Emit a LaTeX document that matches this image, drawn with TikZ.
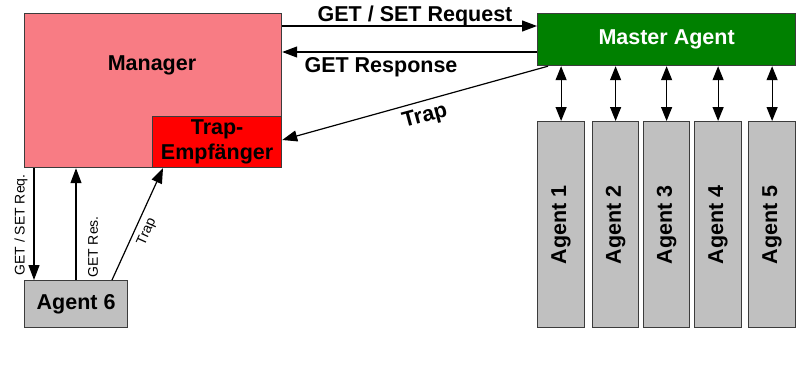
\documentclass[tikz,border=0pt]{standalone}
\usepackage{fontspec}
\setmainfont{Liberation Sans}
\usetikzlibrary{arrows.meta}
\definecolor{mgrpink}{RGB}{248,124,132}
\definecolor{trapred}{RGB}{255,0,0}
\definecolor{mastergreen}{RGB}{0,128,0}
\definecolor{agentgray}{RGB}{192,192,192}
\definecolor{edgegray}{RGB}{60,60,60}
\begin{document}
\begin{tikzpicture}[x=1pt,y=-1pt,
  box/.style={draw=edgegray, line width=1.2pt, anchor=north west, inner sep=0pt},
  bigtxt/.style={font=\fontsize{21.5}{25}\selectfont\bfseries},
  smalltxt/.style={font=\fontsize{14}{16}\selectfont},
  arr/.style={line width=1.2pt, -{Triangle[length=15pt,width=11pt]}},
  darr/.style={line width=1.2pt, {Triangle[length=14pt,width=11pt]}-{Triangle[length=14pt,width=11pt]}}]
\useasboundingbox (0,0) rectangle (800,370);
% Manager
\node[box, fill=mgrpink, minimum width=257pt, minimum height=154pt] (mgr) at (24,13) {};
\node[bigtxt] (mgrtxt) at (152,65) {Manager};
\node[box, fill=trapred, minimum width=129pt, minimum height=51pt] (trap) at (152,116) {};
\node[bigtxt, align=center] (traptxt) at (trap.center) {Trap-\\Empfänger};
% Master agent
\node[box, fill=mastergreen, minimum width=258pt, minimum height=52pt] (ma) at (537,13) {};
\node[bigtxt, text=white] (matxt) at (ma.center) {Master Agent};
% Agents
\node[box, fill=agentgray, minimum width=47pt, minimum height=206pt] (a1) at (537,121) {};
\node[box, fill=agentgray, minimum width=46pt, minimum height=206pt] (a2) at (592,121) {};
\node[box, fill=agentgray, minimum width=46pt, minimum height=206pt] (a3) at (643,121) {};
\node[box, fill=agentgray, minimum width=47pt, minimum height=206pt] (a4) at (694,121) {};
\node[box, fill=agentgray, minimum width=47pt, minimum height=206pt] (a5) at (748,121) {};
\foreach \i in {1,...,5} {
  \node[bigtxt, rotate=90] (a\i txt) at (a\i.center) {Agent \i};
  \draw[darr] (a\i.north |- ma.south) -- (a\i.north);
}
% Agent 6
\node[box, fill=agentgray, minimum width=103pt, minimum height=47pt] (a6) at (24,280) {};
\node[bigtxt] (a6txt) at (a6.center) {Agent 6};
% Manager <-> Master
\draw[arr] (mgr.east |- 0,26) -- (ma.west |- 0,26);
\node[bigtxt] (lreq) at (415,16) {GET / SET Request};
\draw[arr] (ma.west |- 0,52) -- (mgr.east |- 0,52);
\node[bigtxt] (lres) at (381,67) {GET Response};
\draw[arr] (548,0 |- ma.south) -- (trap.east |- 0,140);
\node[bigtxt, rotate=15] (ltrap) at (425,117) {Trap};
% Manager <-> Agent 6
\draw[arr] (34,0 |- mgr.south) -- (34,0 |- a6.north);
\node[smalltxt, rotate=90] (lreq6) at (21,225) {GET / SET Req.};
\draw[arr] (76,0 |- a6.north) -- (76,0 |- mgr.south);
\node[smalltxt, rotate=90] (lres6) at (93,247) {GET Res.};
\draw[arr] (112,0 |- a6.north) -- (163,0 |- trap.south);
\node[smalltxt, rotate=65.7] (ltrap6) at (147,232) {Trap};
\end{tikzpicture}
\end{document}
